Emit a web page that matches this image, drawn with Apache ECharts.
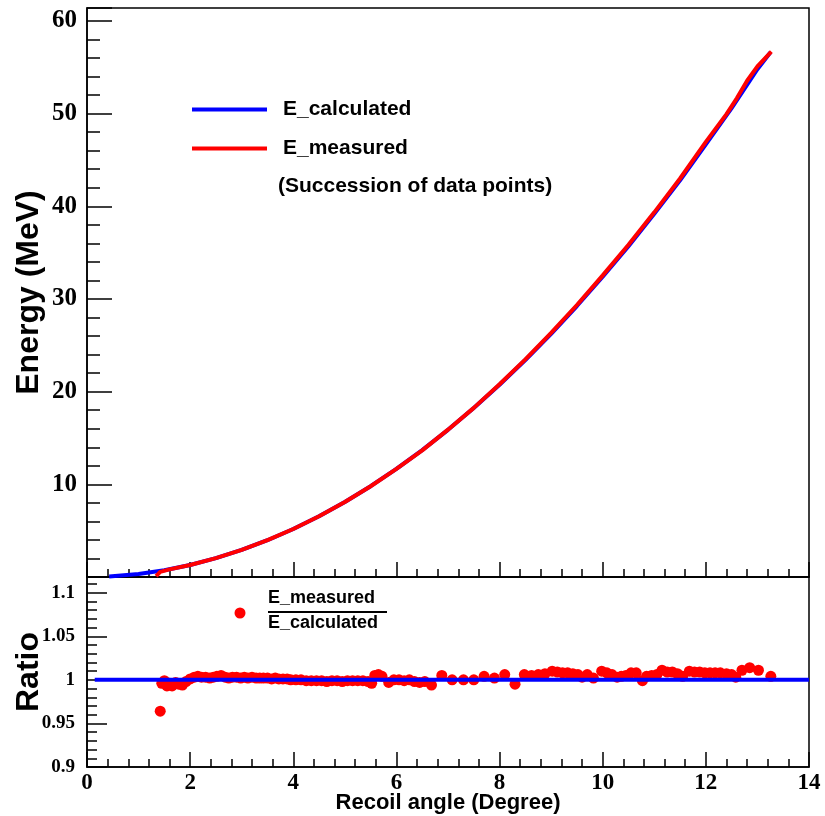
<!DOCTYPE html>
<html>
<head>
<meta charset="utf-8">
<script src="https://cdn.jsdelivr.net/npm/echarts@6/dist/echarts.min.js"></script>
<style>
	html, body { margin: 0; padding: 0; background: #fff; }
	#chart { width: 825px; height: 816px; }
</style>
</head>
<body>
<div id="chart"></div>
<script>
(function() {

	// E_calculated (blue curve)
	var calcAngles = [0.43, 1.0, 1.5, 2.0, 2.5, 3.0, 3.5, 4.0, 4.5, 5.0, 5.5, 6.0, 6.5, 7.0, 7.5, 8.0, 8.5, 9.0, 9.5, 10.0, 10.5, 11.0, 11.5, 12.0, 12.5, 13.0, 13.25];
	var calcEnergy = [0.06, 0.32, 0.73, 1.30, 2.03, 2.92, 3.97, 5.18, 6.56, 8.10, 9.80, 11.66, 13.69, 15.88, 18.23, 20.74, 23.41, 26.24, 29.24, 32.40, 35.70, 39.20, 42.80, 46.70, 50.60, 54.80, 56.60];

	// E_measured (red curve, succession of data points)
	var measAngles = [1.34, 1.42, 1.6, 2.0, 2.5, 3.0, 3.5, 4.0, 4.5, 5.0, 5.5, 6.0, 6.5, 7.0, 7.5, 8.0, 8.5, 9.0, 9.5, 10.0, 10.5, 11.0, 11.5, 12.0, 12.4, 12.6, 12.8, 13.0, 13.27];
	var measEnergy = [0.10, 0.55, 0.82, 1.30, 2.04, 2.93, 3.98, 5.18, 6.55, 8.09, 9.79, 11.67, 13.66, 15.90, 18.25, 20.80, 23.48, 26.35, 29.35, 32.55, 35.85, 39.35, 43.00, 46.95, 49.95, 51.65, 53.55, 55.10, 56.70];

	// ratio E_measured / E_calculated
	var ratioAngles = [1.42, 1.45, 1.50, 1.55, 1.60, 1.65, 1.72, 1.78, 1.85, 1.92, 2.00, 2.08, 2.15, 2.22, 2.30, 2.38, 2.45, 2.52, 2.60, 2.68, 2.75, 2.82, 2.90, 2.98, 3.05, 3.12, 3.20, 3.28, 3.35, 3.42, 3.50, 3.58, 3.65, 3.72, 3.80, 3.88, 3.95, 4.05, 4.15, 4.25, 4.35, 4.45, 4.55, 4.65, 4.75, 4.85, 4.95, 5.05, 5.15, 5.25, 5.35, 5.45, 5.52, 5.58, 5.65, 5.72, 5.85, 5.95, 6.05, 6.15, 6.25, 6.35, 6.45, 6.55, 6.68, 6.88, 7.08, 7.30, 7.50, 7.70, 7.90, 8.10, 8.30, 8.48, 8.62, 8.75, 8.88, 9.02, 9.12, 9.22, 9.32, 9.42, 9.52, 9.60, 9.70, 9.82, 9.98, 10.08, 10.18, 10.28, 10.36, 10.45, 10.55, 10.65, 10.77, 10.85, 10.95, 11.05, 11.15, 11.25, 11.35, 11.45, 11.55, 11.68, 11.78, 11.88, 11.98, 12.08, 12.18, 12.28, 12.40, 12.50, 12.58, 12.70, 12.85, 13.02, 13.26];
	var ratioValues = [0.964, 0.996, 0.999, 0.993, 0.996, 0.993, 0.997, 0.995, 0.994, 0.998, 1.001, 1.003, 1.004, 1.003, 1.003, 1.002, 1.003, 1.004, 1.005, 1.003, 1.002, 1.003, 1.003, 1.002, 1.003, 1.002, 1.003, 1.002, 1.002, 1.002, 1.002, 1.001, 1.002, 1.001, 1.001, 1.001, 1.000, 1.000, 1.000, 0.999, 0.999, 0.999, 0.999, 0.998, 0.999, 0.999, 0.998, 0.999, 0.999, 0.999, 0.999, 0.998, 0.996, 1.005, 1.006, 1.004, 0.997, 1.000, 1.000, 0.999, 1.000, 0.998, 0.997, 0.998, 0.994, 1.005, 1.000, 1.000, 1.000, 1.004, 1.002, 1.006, 0.995, 1.006, 1.005, 1.006, 1.007, 1.010, 1.009, 1.008, 1.008, 1.007, 1.006, 1.003, 1.006, 1.002, 1.010, 1.008, 1.006, 1.003, 1.004, 1.005, 1.008, 1.008, 0.999, 1.004, 1.005, 1.006, 1.011, 1.009, 1.009, 1.007, 1.004, 1.010, 1.009, 1.009, 1.008, 1.008, 1.008, 1.008, 1.007, 1.006, 1.003, 1.011, 1.014, 1.011, 1.004];

	// reference line ratio = 1
	var refAngles = [0.15, 14];
	var refRatio = [1, 1];

	function pairs(xs, ys) {
		var out = [];
		for (var i = 0; i < xs.length; i++) out.push([xs[i], ys[i]]);
		return out;
	}

	var serif = "Liberation Serif";
	var sans = "Liberation Sans";

	var option = {
		"animation": false,
		"backgroundColor": "#fff",
		"grid": [{
			"left": 87, "right": 16, "top": 8, "height": 569,
			"outerBoundsMode": "none", "containLabel": false,
			"show": true, "borderColor": "#000", "borderWidth": 1.5
		}, {
			"left": 87, "right": 16, "top": 577, "height": 190,
			"outerBoundsMode": "none", "containLabel": false,
			"show": true, "borderColor": "#000", "borderWidth": 1.5
		}],
		"legend": {
			"left": 187,
			"top": 94,
			"orient": "vertical",
			"icon": "rect",
			"itemWidth": 75,
			"itemHeight": 4,
			"itemGap": 18,
			"selectedMode": false,
			"data": ["E_calculated", "E_measured"],
			"textStyle": {
				"color": "#000",
				"fontFamily": sans,
				"fontWeight": "bold",
				"fontSize": 21,
				"lineHeight": 21,
				"padding": [0, 0, 0, 11]
			}
		},
		"xAxis": [{
			"gridIndex": 0,
			"type": "value",
			"min": 0, "max": 14, "interval": 2,
			"axisLine": { "lineStyle": { "color": "#000", "width": 1.5 } },
			"axisTick": { "inside": true, "length": 15, "lineStyle": { "color": "#000", "width": 1.5 } },
			"minorTick": { "show": true, "splitNumber": 5, "length": 8, "lineStyle": { "color": "#000", "width": 1.5 } },
			"axisLabel": { "show": false },
			"splitLine": { "show": false }
		}, {
			"gridIndex": 1,
			"type": "value",
			"min": 0, "max": 14, "interval": 2,
			"name": "Recoil angle (Degree)",
			"nameLocation": "middle",
			"nameGap": 25,
			"nameMoveOverlap": false,
			"nameTextStyle": { "color": "#000", "fontFamily": sans, "fontWeight": "bold", "fontSize": 22 },
			"axisLine": { "lineStyle": { "color": "#000", "width": 1.5 } },
			"axisTick": { "inside": true, "length": 15, "lineStyle": { "color": "#000", "width": 1.5 } },
			"minorTick": { "show": true, "splitNumber": 5, "length": 8, "lineStyle": { "color": "#000", "width": 1.5 } },
			"axisLabel": {
				"margin": 5,
				"color": "#000",
				"fontFamily": serif,
				"fontWeight": "bold",
				"fontSize": 23
			},
			"splitLine": { "show": false }
		}],
		"yAxis": [{
			"gridIndex": 0,
			"type": "value",
			"min": 0, "max": 61.4, "interval": 10,
			"name": "Energy (MeV)",
			"nameLocation": "middle",
			"nameGap": 42,
			"nameMoveOverlap": false,
			"nameTextStyle": { "color": "#000", "fontFamily": sans, "fontWeight": "bold", "fontSize": 32 },
			"axisLine": { "lineStyle": { "color": "#000", "width": 1.5 } },
			"axisTick": { "inside": true, "length": 25, "lineStyle": { "color": "#000", "width": 1.5 } },
			"minorTick": { "show": true, "splitNumber": 5, "length": 13, "lineStyle": { "color": "#000", "width": 1.5 } },
			"axisLabel": {
				"margin": 10,
				"color": "#000",
				"fontFamily": serif,
				"fontWeight": "bold",
				"fontSize": 25,
				"formatter": function(v) { return (v > 0 && v % 10 === 0) ? String(v) : ""; }
			},
			"splitLine": { "show": false }
		}, {
			"gridIndex": 1,
			"type": "value",
			"min": 0.9, "max": 1.118, "interval": 0.05,
			"name": "Ratio",
			"nameLocation": "middle",
			"nameGap": 42,
			"nameMoveOverlap": false,
			"nameTextStyle": { "color": "#000", "fontFamily": sans, "fontWeight": "bold", "fontSize": 32 },
			"axisLine": { "lineStyle": { "color": "#000", "width": 1.5 } },
			"axisTick": { "inside": true, "length": 20, "lineStyle": { "color": "#000", "width": 1.5 } },
			"minorTick": { "show": true, "splitNumber": 5, "length": 10, "lineStyle": { "color": "#000", "width": 1.5 } },
			"axisLabel": {
				"margin": 12,
				"color": "#000",
				"fontFamily": serif,
				"fontWeight": "bold",
				"fontSize": 19,
				"formatter": function(v) {
					var r = Math.round(v * 100) / 100;
					return r > 1.11 ? "" : String(r);
				}
			},
			"splitLine": { "show": false }
		}],
		"graphic": [{
			"type": "text",
			"left": 278, "top": 176,
			"style": { "text": "(Succession of data points)", "fill": "#000", "font": "bold 21px 'Liberation Sans'" }
		}, {
			"type": "circle",
			"shape": { "cx": 240, "cy": 613, "r": 5.5 },
			"style": { "fill": "#ff0000" }
		}, {
			"type": "text",
			"left": 268, "top": 589,
			"style": { "text": "E_measured", "fill": "#000", "font": "bold 18px 'Liberation Sans'" }
		}, {
			"type": "line",
			"shape": { "x1": 268, "y1": 612, "x2": 387, "y2": 612 },
			"style": { "stroke": "#000", "lineWidth": 2 }
		}, {
			"type": "text",
			"left": 268, "top": 614,
			"style": { "text": "E_calculated", "fill": "#000", "font": "bold 18px 'Liberation Sans'" }
		}],
		"series": [{
			"name": "E_calculated",
			"type": "line",
			"xAxisIndex": 0, "yAxisIndex": 0,
			"showSymbol": false,
			"symbol": "none",
			"lineStyle": { "color": "#0000ff", "width": 4 },
			"itemStyle": { "color": "#0000ff" },
			"data": pairs(calcAngles, calcEnergy),
			"z": 2
		}, {
			"name": "E_measured",
			"type": "line",
			"xAxisIndex": 0, "yAxisIndex": 0,
			"showSymbol": false,
			"symbol": "none",
			"lineStyle": { "color": "#ff0000", "width": 4 },
			"itemStyle": { "color": "#ff0000" },
			"data": pairs(measAngles, measEnergy),
			"z": 3
		}, {
			"name": "ratio",
			"type": "scatter",
			"xAxisIndex": 1, "yAxisIndex": 1,
			"symbolSize": 11,
			"itemStyle": { "color": "#ff0000", "opacity": 1 },
			"data": pairs(ratioAngles, ratioValues),
			"z": 2
		}, {
			"name": "ratio one",
			"type": "line",
			"xAxisIndex": 1, "yAxisIndex": 1,
			"showSymbol": false,
			"symbol": "none",
			"lineStyle": { "color": "#0000ff", "width": 4 },
			"data": pairs(refAngles, refRatio),
			"z": 3
		}]
	};

	var chart = echarts.init(document.getElementById("chart"));
	chart.setOption(option);

})();
</script>
</body>
</html>
